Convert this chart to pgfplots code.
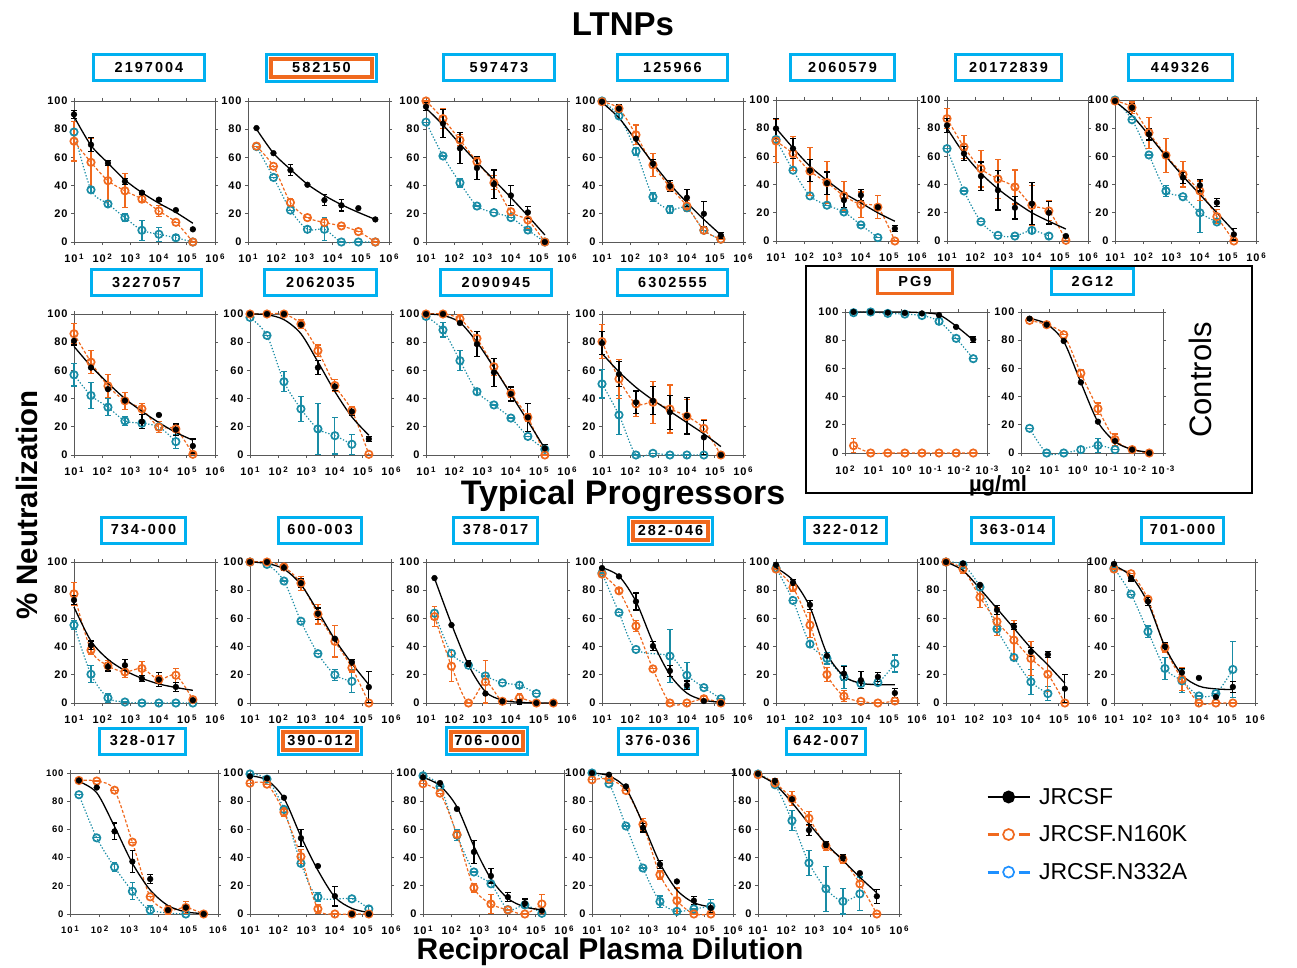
\documentclass[border=0pt]{standalone}
\usepackage{fontspec}
\setmainfont{Liberation Sans}
\newfontfamily\tkf[LetterSpace=8]{Liberation Sans}
\newfontfamily\bxf[LetterSpace=14]{Liberation Sans}
\usepackage{pgfplots}
\usepackage{pgfplotstable}
\pgfplotsset{compat=1.18}

\definecolor{cyanC}{RGB}{0,176,240}
\definecolor{orC}{RGB}{240,105,30}
\definecolor{tlC}{RGB}{25,140,165}
\definecolor{lgB}{RGB}{30,144,255}

\newcommand\tp[1]{10\kern1.8pt\raisebox{0.55ex}{\fontsize{8}{8}\selectfont#1}}

\pgfplotsset{
  errb/.style={error bars/y dir=both, error bars/y explicit,
    error bars/error bar style={line width=1.2pt, solid},
    error bars/error mark options={rotate=90, mark size=2.8pt, line width=1.2pt}},
  ebjr/.style={black, only marks, mark=none, errb},
  fitjr/.style={black, line width=1.3pt, smooth, mark=none},
  lnog/.style={orC, line width=1.2pt, dash pattern=on 3pt off 2pt, smooth, mark=none, errb},
  lntl/.style={tlC, line width=1.2pt, dash pattern=on 1.3pt off 1.9pt, smooth, mark=none, errb},
  mkjr/.style={only marks, black, mark=*, mark size=2.9pt},
  mkog/.style={only marks, orC, mark=o, mark size=3.7pt,
    mark options={solid, fill=white, line width=1.7pt}},
  mktl/.style={only marks, tlC, mark=o, mark size=3.7pt,
    mark options={solid, fill=white, line width=1.7pt}},
}

% columns: dilution, JRCSF (value, error, fitted curve), N160K (value, error), N332A (value, error)
\pgfplotstableread{
x b be bf o oe t te
10 90.5 3 89 71.5 14 78 2
40 69 5 68.5 56.5 17 37 2
160 56 2 56 43.5 14.5 27 2
640 43 2 44 36.3 12 17.3 3
2560 35 1 35 30.4 2 8.3 7
10240 30 1 27.5 22 4 5.5 5
40960 22.6 0 21 14 0 3 2
163840 9 0 13.3 0 0 0 0
}\Ta
\pgfplotstableread{
x b be bf o oe t te
20 80.8 0 80 68 0 67.7 0
80 63 0 63 53.7 0 45.8 0
320 51 4 51.5 28 3 22.6 0
1280 40.6 0 41 17.3 0 9 2
5120 29.7 4 33 13.8 3 9 8
20480 26 4 26.5 11.4 0 0 0
81920 24 0 21 7.4 0 0 0
327680 16 0 16 0 0 0 0
}\Tb
\pgfplotstableread{
x b be bf o oe t te
10 96 3 95 100 0 85 0
40 84 10 83 87.5 7 61 0
160 66.4 11 69.5 72.3 4 42 3
640 52.5 8 56.5 57 3 25.5 0
2560 41 10 44 42 5 20.8 0
10240 33 7 31.5 21.5 2 17.3 0
40960 21 4 18.5 15.6 6 8.5 0
163840 0 0 5 0 0 0 0
}\Tc
\pgfplotstableread{
x b be bf o oe t te
10 99.5 0 99 99.5 0 100 0
40 94.6 3 88 94.6 3 89.4 2
160 73.3 0 72 76 7 64.3 3
640 55.6 3 56 54.6 8 32 3
2560 39.7 4 41 39 3 23 3
10240 31.4 6 28 25.5 4 24.3 0
40960 20 9 16 8.3 2 8.3 0
163840 4.7 2 5 2 0 2 0
}\Td
\pgfplotstableread{
x b be bf o oe t te
10 79.8 7 80 70.9 15 72 0
40 65.6 7 66 62 12 50.2 0
160 50 8 53 49.5 17 32 0
640 41 8 43 41.5 15 25.4 0
2560 29 5 34 32 10 20.6 0
10240 32.5 4 27 25.8 9 11.4 0
40960 24 0 20 24 8 2.4 0
163840 8.8 2 14 0 0 nan 0
}\Te
\pgfplotstableread{
x b be bf o oe t te
10 82 5 80 86.8 7 65.5 0
40 62 5 62 66.7 8 35.5 0
160 46 10 48 51.3 13 13.7 0
640 36 14 37 44 14 4 0
2560 23.6 8 28 38.3 12 3.5 0
10240 26.5 15 20 25.3 14 7.5 2
40960 20 8 14 21.3 7 3.5 2
163840 3.5 0 8.5 0.5 0 nan 0
}\Tf
\pgfplotstableread{
x b be bf o oe t te
10 99.3 0 99 99.3 0 100 0
40 94.6 3 89 94.6 4 86 0
160 75.7 4 75 76.8 11 61 0
640 60.8 0 60 60.8 12 35.5 4
2560 45 4 46 47.3 9 31.4 0
10240 39.5 4 33 35.5 7 20 14
40960 27.2 3 20 17.3 5 13.5 0
163840 4.7 4 7 0 0 nan 0
}\Tg
\pgfplotstableread{
x b be bf o oe t te
10 81 3 77 86 7 56.9 8
40 62 0 63 65.9 8 42.2 9
160 46.7 0 51 49 8 33.9 6
640 38.6 0 40 38.4 6 24.2 3
2560 23.7 5 31 32.7 4 22.5 0
10240 28.4 0 23 19.7 4 20 4
40960 18 4 16 18.5 0 9.5 5
163840 6.4 5 10.5 0.5 0 nan 0
}\Th
\pgfplotstableread{
x b be bf o oe t te
10 100 0 100 100 0 97.6 0
40 100 0 99.5 100 0 84.8 0
160 100 0 96 100 0 52 7
640 92.4 0 86 92.9 3 32.7 9
2560 62 5 66 74 4 18.5 18
10240 48.6 3 45 49.3 4 13.7 13
40960 30.8 3 27 31.5 3 7.6 7
163840 11.4 2 14 0.5 0 nan 0
}\Ti
\pgfplotstableread{
x b be bf o oe t te
10 100 0 100 100 0 98.3 0
40 100 0 99 100 0 88.7 5
160 93.6 0 94 96.5 3 66.9 7
640 78.7 9 80 82.7 5 44.9 2
2560 58.6 10 62 62.6 6 35.5 0
10240 43.3 5 43 43.7 3 26.2 0
40960 26.7 10 24 26.7 3 13.2 0
163840 4.7 3 4.5 0 0 4 0
}\Tj
\pgfplotstableread{
x b be bf o oe t te
10 79.4 8 72 80.4 12 50.4 10
40 57.4 9 59 53.9 14 28.4 14
160 37.4 8 48 36.2 9 0 0
640 38.5 10 39 37.4 15 1.2 0
2560 30.3 12 31 32.6 17 0 0
10240 27.9 13 23 27.4 12 0 0
40960 12.5 12 15 18.9 6 0 0
163840 0 0 6 0 0 nan 0
}\Tk
\pgfplotstableread{
x b be bf o oe t te
50 100 0 100 5.2 5 99.5 0
12.5 100 0 100 0 0 100 0
3.125 99.5 0 100 0 0 99 0
0.78125 99.3 0 100 0 0 98.5 0
0.1953125 99 0 99.5 0 0 97.5 0
0.048828125 97.8 0 98 0 0 93.4 2
0.01220703125 89.4 0 90 0 0 81.3 0
0.0030517578125 80.6 2 80 0 0 66.9 0
}\Tpg
\pgfplotstableread{
x b be bf o oe t te
50 95.3 0 95.5 94 0 17.5 0
12.5 91 0 91.5 91 0 0 0
3.125 79.4 0 79 83.9 0 0 0
0.78125 50.1 0 50 56.5 3 2.4 2
0.1953125 22.2 0 22 31.4 4 5.4 5
0.048828125 8.5 0 8 9.5 4 2.4 0
0.01220703125 2.4 0 2.5 2.4 0 nan 0
0.0030517578125 0 0 0.5 0 0 nan 0
}\Tgt
\pgfplotstableread{
x b be bf o oe t te
10 73 3 68 77.4 8 55.3 3
40 41 3 44 37.5 3 20.4 6
160 25.7 3 31 26.4 4 3.6 3
640 26.8 4 23 22 4 0.7 0
2560 17.3 2 17.5 24.5 5 0 0
10240 16.6 5 13.5 16.6 3 0 0
40960 11.4 3 11 19.7 5 0 0
163840 2 0 9 2.4 0 0 0
}\Tl
\pgfplotstableread{
x b be bf o oe t te
10 100 0 100 100 0 100 0
40 100 0 99 100 0 98.3 0
160 96 2 95 96.5 2 86.5 0
640 85 3 84 85 5 58 0
2560 63.4 4 65 63 7 35 0
10240 45.6 0 45 43.7 11 20 4
40960 29 2 28 25 3 15.4 8
163840 11.3 11 13 0 0 nan 0
}\Tm
\pgfplotstableread{
x b be bf o oe t te
20 88.6 0 88.5 61.3 7 63.7 0
80 55.3 0 56 26.1 11 35.2 2
320 28 2 27 0 0 26.8 0
1280 6.7 0 8 15 15 19.2 0
5120 1.2 2 2 1.2 0 14.3 0
20480 0.7 2 0.5 3.6 3 12.6 2
81920 0 0 0 0 0 6.7 0
327680 0 0 0 0 0 nan 0
}\Tn
\pgfplotstableread{
x b be bf o oe t te
10 95.7 0 96 91.4 0 92.2 0
40 89.8 0 90 79.6 2 64.1 0
160 72 6 72 54.6 4 38 0
640 40.4 3 43 24.2 0 nan 0
2560 22.8 4 20 0 0 33.3 19
10240 12.6 3 7 0 0 19.7 9
40960 1.4 0 2 3 2 10.9 0
163840 0 0 0.5 0 0 3 0
}\To
\pgfplotstableread{
x b be bf o oe t te
10 98 0 96 95 0 95.7 0
40 85.5 2 87 82 3 72.7 0
160 69.6 3 68 55.3 9 41.8 2
640 33.5 0 35 20.2 5 31.6 4
2560 20.9 5 19 4.8 4 18.5 8
10240 16.2 6 14 1.2 0 13.8 2
40960 18.5 3 13 0 0 14.5 2
163840 7.1 3 13 1.4 0 28 6
}\Tp
\pgfplotstableread{
x b be bf o oe t te
10 100 0 100 100 0 100 0
40 99 0 94 95 3 98 0
160 83.8 0 81 75 7 82.2 0
640 66 3 67 57.7 10 52.5 0
2560 54.2 2 53 44.6 14 32.3 2
10240 36.3 3 39 31.6 12 15 9
40960 34.4 2 27 20.4 12 6.7 5
163840 10.2 10 14 0 0 nan 0
}\Tq
\pgfplotstableread{
x b be bf o oe t te
10 98.6 0 97.5 95 0 95.7 0
40 88.6 2 90 91.7 0 77.2 0
160 72 3 71 73.6 2 50.6 4
640 40 3 40 39.2 3 24.5 8
2560 21.6 3 20 16.9 8 15.7 8
10240 17.8 0 12 0 0 5 0
40960 4.3 0 10 0 0 6.7 0
163840 11.4 4 9.5 0 0 23.8 20
}\Tr
\pgfplotstableread{
x b be bf o oe t te
20 94.7 0 94 94.7 0 84.6 0
80 89.7 0 86 94.3 0 54 0
320 58.6 6 62 87.8 0 33.3 3
1280 37.2 8 36 51 0 16.1 6
5120 24.8 3 17 12.2 0 2.8 3
20480 2.8 0 6 2.8 3 nan 0
81920 4.6 0 1.5 4.6 4 0 0
327680 0 0 0.3 0 0 nan 0
}\Ts
\pgfplotstableread{
x b be bf o oe t te
10 97.6 0 98 92.8 0 99.3 0
40 96.2 0 95 92.1 0 95.7 0
160 82.5 0 82 72.2 3 74.2 2
640 53.8 6 55 40.7 5 35.9 2
2560 34 0 31 3.6 3 12 3
10240 12.7 7 12 0 0 nan 0
40960 0 0 4 0 0 10.8 0
163840 0 0 1 0 0 3.6 2
}\Tt
\pgfplotstableread{
x b be bf o oe t te
10 97 0 97 92.4 0 98 0
40 92.9 0 91 85.7 0 90.5 0
160 74.5 0 76 56.4 3 56 4
640 44 8 48 18.6 3 29.8 0
2560 27 5 25 7.1 7 21.4 0
10240 12 3 11 2.9 0 3.1 0
40960 7.6 3 5 0 0 6.4 0
163840 2.4 0 3 7.1 7 0.5 0
}\Tu
\pgfplotstableread{
x b be bf o oe t te
10 100 0 100 95.2 0 100 0
40 98.8 0 98 95.7 0 92.4 0
160 90.5 0 89 87.6 0 62.4 0
640 61.2 3 64 63.6 4 32.6 0
2560 35.2 3 36 27.9 3 8.8 4
10240 23.1 0 17 9.5 9 1.9 0
40960 9.5 3 8 0 0 3.6 0
163840 4.3 3 5 0 0 5.5 5
}\Tv
\pgfplotstableread{
x b be bf o oe t te
10 99.5 0 99 98.8 0 99.3 0
40 94.5 0 92 92.9 3 91.7 0
160 81.4 0 79 81.7 5 66.2 7
640 59.5 4 64 67.9 5 36.2 9
2560 49.5 2 50 48.3 3 17.9 16
10240 40 2 38 38.8 3 9 9
40960 29 0 26 21.4 2 14.3 12
163840 12.6 5 15 0 0 nan 0
}\Tw

% one panel: x of left edge, y of bottom edge (px from top), table, extra options
\newcommand\panel[4]{%
  \begin{axis}[anchor=south west, scale only axis, width=141pt, height=141pt,
    xmode=log, ymode=normal, xmin=10, xmax=1000000, ymin=0, ymax=100, clip=false,
    xtick={10,100,1000,10000,100000,1000000},
    xticklabels={\tp1,\tp2,\tp3,\tp4,\tp5,\tp6},
    ytick={0,20,40,60,80,100}, yticklabels={0,20,40,60,80,100},
    minor tick style={draw=none}, tick align=outside, major tick length=3pt,
    tick style={gray!70!black, line width=0.9pt},
    tick label style={font=\tkf\bfseries\fontsize{11}{11}\selectfont},
    xticklabel style={yshift=-5pt},
    axis line style={draw=gray!70!black, line width=0.9pt},
    at={(#1pt,-#2pt)}, #4]
    \addplot[lntl] table[x=x, y=t, y error=te] {#3};
    \addplot[lnog] table[x=x, y=o, y error=oe] {#3};
    \addplot[ebjr] table[x=x, y=b, y error=be] {#3};
    \addplot[fitjr] table[x=x, y=bf] {#3};
    \addplot[mktl] table[x=x, y=t] {#3};
    \addplot[mkog] table[x=x, y=o] {#3};
    \addplot[mkjr] table[x=x, y=b] {#3};
  \end{axis}}

% title boxes
\newcommand\bx[4]{\node[draw=cyanC, line width=3pt, minimum width=#3pt-3pt,
  minimum height=26pt, inner sep=0pt, font=\bxf\bfseries\fontsize{14.5}{15}\selectfont]
  at (#1pt,-#2pt) {#4};}
\newcommand\obx[4]{\node[draw=cyanC, line width=3pt, minimum width=#3pt-3pt,
  minimum height=27pt, inner sep=0pt] at (#1pt,-#2pt) {};
  \node[draw=orC, line width=3.5pt, minimum width=#3pt-12pt,
  minimum height=18pt, inner sep=0pt, font=\bxf\bfseries\fontsize{14.5}{15}\selectfont]
  at (#1pt,-#2pt) {#4};}

\begin{document}
\begin{tikzpicture}
\useasboundingbox (0,0) rectangle (1297pt,-968pt);

% LTNPs
\panel{74}{242}{\Ta}{}
\panel{248}{242}{\Tb}{}
\panel{426}{242}{\Tc}{}
\panel{602}{242}{\Td}{}
\panel{776}{241}{\Te}{}
\panel{947}{241}{\Tf}{}
\panel{1115}{241}{\Tg}{}
\panel{74}{455}{\Th}{}
\panel{250}{455}{\Ti}{}
\panel{426}{455}{\Tj}{}
\panel{602}{455}{\Tk}{}

% controls
\panel{845}{453}{\Tpg}{x dir=reverse, xmin=0.001, xmax=100, width=142pt,
  xtick={0.001,0.01,0.1,1,10,100}, xticklabel style={yshift=-1pt},
  xticklabels={\tp{-3},\tp{-2},\tp{-1},\tp0,\tp1,\tp2}}
\panel{1021}{453}{\Tgt}{x dir=reverse, xmin=0.001, xmax=100, width=142pt,
  xtick={0.001,0.01,0.1,1,10,100}, xticklabel style={yshift=-1pt},
  xticklabels={\tp{-3},\tp{-2},\tp{-1},\tp0,\tp1,\tp2}}

% typical progressors
\panel{74}{703}{\Tl}{}
\panel{250}{703}{\Tm}{}
\panel{426}{703}{\Tn}{}
\panel{602}{703}{\To}{}
\panel{776}{703}{\Tp}{}
\panel{946}{703}{\Tq}{}
\panel{1114}{703}{\Tr}{}
\panel{70}{914}{\Ts}{width=148pt,
  tick label style={font=\tkf\bfseries\fontsize{9.5}{10}\selectfont}}
\panel{250}{914}{\Tt}{}
\panel{423}{914}{\Tu}{}
\panel{592}{914}{\Tv}{}
\panel{758}{914}{\Tw}{}

% legend
\begin{axis}[at={(983pt,-784pt)}, anchor=north west, hide axis, scale only axis,
  width=10pt, height=10pt, xmin=0, xmax=1, ymin=0, ymax=1,
  legend style={at={(0,1)}, anchor=north west, draw=none, fill=none,
    font=\fontsize{23}{23}\selectfont, row sep=16pt, column sep=6pt,
    legend cell align=left},
  legend image code/.code={\draw[mark repeat=2, mark phase=2, #1]
    plot coordinates {(0pt,0pt) (21pt,0pt) (42pt,0pt)};}]
  \addlegendimage{black, line width=2.8pt, mark=*, mark size=5pt}
  \addlegendentry{JRCSF}
  \addlegendimage{orC, line width=2.8pt, dash pattern=on 11pt off 20pt, mark=o,
    mark size=5.5pt, mark options={solid, fill=white, line width=1.7pt}}
  \addlegendentry{JRCSF.N160K}
  \addlegendimage{lgB, line width=2.8pt, dash pattern=on 11pt off 20pt, mark=o,
    mark size=5.5pt, mark options={solid, fill=white, line width=1.7pt}}
  \addlegendentry{JRCSF.N332A}
\end{axis}

% title boxes
\bx{149}{68}{114}{2197004}
\obx{321.5}{68}{113}{582150}
\bx{499}{68}{114}{597473}
\bx{672.5}{68}{113}{125966}
\bx{842.5}{68}{107}{2060579}
\bx{1008.5}{68}{109}{20172839}
\bx{1180}{68}{107}{449326}
\bx{146.5}{282.5}{113}{3227057}
\bx{320.5}{282.5}{115}{2062035}
\bx{496}{282.5}{114}{2090945}
\bx{672.5}{282.5}{113}{6302555}
\node[draw=orC, line width=3pt, minimum width=75pt, minimum height=24pt, inner sep=0pt,
  font=\bxf\bfseries\fontsize{14.5}{15}\selectfont] at (915pt,-281.5pt) {PG9};
\bx{1092.5}{281.5}{85}{2G12}
\bx{143.5}{530}{87}{734-000}
\bx{320}{530}{86}{600-003}
\bx{495.5}{530}{87}{378-017}
\obx{670.5}{531}{87}{282-046}
\bx{845.5}{530}{85}{322-012}
\bx{1012.5}{530}{85}{363-014}
\bx{1182.5}{530}{85}{701-000}
\bx{142.5}{741}{89}{328-017}
\obx{320}{741}{86}{390-012}
\obx{487}{741}{84}{706-000}
\bx{658}{741}{82}{376-036}
\bx{826}{741}{82}{642-007}

% controls frame
\draw[line width=1.6pt] (806pt,-266pt) rectangle (1252pt,-493pt);
\node[rotate=90, font=\fontsize{31}{31}\selectfont] at (1200pt,-380pt) {Controls};
\node[font=\bfseries\fontsize{22}{22}\selectfont] at (998pt,-486pt) {µg/ml};

% headings
\node[font=\bfseries\fontsize{33}{33}\selectfont] at (623pt,-24pt) {LTNPs};
\node[font=\bfseries\fontsize{34}{34}\selectfont] at (623pt,-496pt) {Typical Progressors};
\node[rotate=90, font=\bfseries\fontsize{29.5}{30}\selectfont] at (27pt,-505pt) {\% Neutralization};
\node[font=\bfseries\fontsize{30}{30}\selectfont] at (610pt,-952pt) {Reciprocal Plasma Dilution};
\end{tikzpicture}
\end{document}
